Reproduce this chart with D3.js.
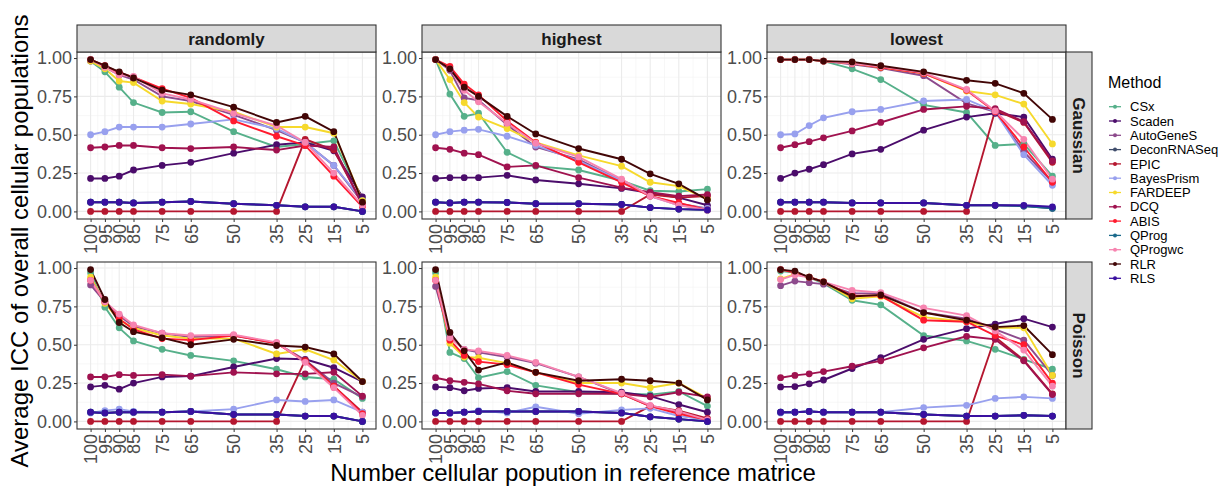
<!DOCTYPE html>
<html>
<head>
<meta charset="utf-8">
<script src="https://cdn.jsdelivr.net/npm/d3@7"></script>
<style>
  body { margin: 0; background: #fff; }
  svg { font-family: "Liberation Sans", Arial, sans-serif; }
</style>
</head>
<body>
<svg id="chart" width="1224" height="490"></svg>
<script>
// x categories (number of cell populations kept in the reference)
const xValues = [100, 95, 90, 85, 75, 65, 50, 35, 25, 15, 5];
const yTicks = [0, 0.25, 0.5, 0.75, 1];

const methods = ["CSx", "Scaden", "AutoGeneS", "DeconRNASeq", "EPIC", "BayesPrism",
  "FARDEEP", "DCQ", "ABIS", "QProg", "QProgwc", "RLR", "RLS"];
const methodColors = ["#56b08a", "#4b0c6b", "#8d4a8c", "#3f4c6b", "#b5172f", "#98a0ee",
  "#f6d92c", "#a0124f", "#ff1a2e", "#1b6a8b", "#f784b0", "#420606", "#3a10a0"];

const columns = ["randomly", "highest", "lowest"];
const rows = ["Gaussian", "Poisson"];

// one array per panel, rows in method order
const gaussianRandomly = [
  [0.98, 0.91, 0.81, 0.71, 0.645, 0.65, 0.52, 0.42, 0.44, 0.46, 0.08],
  [0.215, 0.215, 0.23, 0.27, 0.30, 0.32, 0.38, 0.435, 0.45, 0.395, 0.095],
  [0.98, 0.94, 0.89, 0.86, 0.75, 0.72, 0.63, 0.53, 0.45, 0.30, 0.06],
  [0.06, 0.06, 0.06, 0.055, 0.06, 0.065, 0.05, 0.04, 0.03, 0.03, 0.0],
  [0, 0, 0, 0, 0, 0, 0, 0, 0.47, 0.40, 0.05],
  [0.50, 0.52, 0.55, 0.55, 0.55, 0.57, 0.60, 0.54, 0.45, 0.30, 0.07],
  [0.98, 0.93, 0.85, 0.84, 0.72, 0.70, 0.65, 0.55, 0.55, 0.51, 0.07],
  [0.415, 0.42, 0.43, 0.43, 0.415, 0.41, 0.42, 0.40, 0.43, 0.42, 0.04],
  [0.99, 0.95, 0.905, 0.875, 0.80, 0.74, 0.59, 0.49, 0.43, 0.23, 0.03],
  [0.06, 0.06, 0.06, 0.055, 0.06, 0.065, 0.05, 0.04, 0.03, 0.03, 0.0],
  [0.99, 0.94, 0.89, 0.88, 0.77, 0.73, 0.64, 0.56, 0.45, 0.25, 0.04],
  [0.99, 0.95, 0.91, 0.87, 0.79, 0.76, 0.68, 0.58, 0.62, 0.52, 0.06],
  [0.06, 0.06, 0.06, 0.055, 0.06, 0.065, 0.05, 0.04, 0.03, 0.03, 0.0]
];
const gaussianHighest = [
  [0.99, 0.765, 0.62, 0.64, 0.385, 0.295, 0.27, 0.20, 0.135, 0.13, 0.145],
  [0.215, 0.22, 0.22, 0.22, 0.235, 0.205, 0.18, 0.15, 0.12, 0.09, 0.04],
  [0.99, 0.92, 0.74, 0.725, 0.565, 0.42, 0.34, 0.20, 0.10, 0.05, 0.02],
  [0.06, 0.055, 0.06, 0.06, 0.058, 0.05, 0.05, 0.045, 0.025, 0.015, 0.01],
  [0, 0, 0, 0, 0, 0, 0, 0, 0.11, 0.09, 0.10],
  [0.50, 0.52, 0.53, 0.535, 0.49, 0.43, 0.33, 0.20, 0.10, 0.04, 0.02],
  [0.99, 0.86, 0.71, 0.615, 0.54, 0.45, 0.365, 0.295, 0.19, 0.165, 0.08],
  [0.415, 0.405, 0.38, 0.37, 0.29, 0.30, 0.22, 0.155, 0.125, 0.10, 0.11],
  [0.99, 0.945, 0.83, 0.76, 0.59, 0.45, 0.32, 0.19, 0.10, 0.055, 0.01],
  [0.06, 0.055, 0.06, 0.06, 0.058, 0.05, 0.05, 0.045, 0.025, 0.015, 0.01],
  [0.99, 0.93, 0.79, 0.715, 0.575, 0.445, 0.355, 0.21, 0.10, 0.04, 0.01],
  [0.99, 0.93, 0.81, 0.75, 0.62, 0.505, 0.41, 0.34, 0.245, 0.18, 0.075],
  [0.06, 0.055, 0.06, 0.06, 0.058, 0.05, 0.05, 0.045, 0.025, 0.015, 0.01]
];
const gaussianLowest = [
  [0.99, 0.99, 0.99, 0.98, 0.93, 0.86, 0.695, 0.645, 0.43, 0.44, 0.23],
  [0.215, 0.25, 0.275, 0.305, 0.375, 0.405, 0.53, 0.615, 0.64, 0.615, 0.34],
  [0.99, 0.99, 0.99, 0.98, 0.96, 0.935, 0.885, 0.705, 0.65, 0.39, 0.19],
  [0.06, 0.06, 0.06, 0.06, 0.055, 0.055, 0.055, 0.04, 0.04, 0.035, 0.02],
  [0, 0, 0, 0, 0, 0, 0, 0, 0.66, 0.58, 0.32],
  [0.50, 0.505, 0.56, 0.61, 0.65, 0.665, 0.72, 0.73, 0.65, 0.37, 0.17],
  [0.99, 0.99, 0.99, 0.98, 0.965, 0.94, 0.90, 0.785, 0.76, 0.70, 0.44],
  [0.415, 0.435, 0.455, 0.48, 0.525, 0.58, 0.665, 0.685, 0.67, 0.585, 0.33],
  [0.99, 0.99, 0.99, 0.98, 0.965, 0.94, 0.90, 0.79, 0.65, 0.42, 0.19],
  [0.06, 0.06, 0.06, 0.06, 0.055, 0.055, 0.055, 0.04, 0.04, 0.035, 0.02],
  [0.99, 0.99, 0.99, 0.98, 0.965, 0.945, 0.905, 0.795, 0.655, 0.47, 0.21],
  [0.99, 0.99, 0.99, 0.98, 0.975, 0.95, 0.91, 0.855, 0.835, 0.77, 0.60],
  [0.06, 0.06, 0.06, 0.06, 0.055, 0.055, 0.055, 0.04, 0.04, 0.04, 0.03]
];
const poissonRandomly = [
  [0.97, 0.745, 0.61, 0.525, 0.47, 0.43, 0.395, 0.34, 0.29, 0.275, 0.15],
  [0.225, 0.235, 0.21, 0.25, 0.29, 0.295, 0.355, 0.41, 0.405, 0.35, 0.26],
  [0.89, 0.78, 0.69, 0.62, 0.575, 0.55, 0.56, 0.51, 0.40, 0.25, 0.16],
  [0.06, 0.055, 0.06, 0.06, 0.06, 0.065, 0.045, 0.045, 0.035, 0.035, 0.0],
  [0, 0, 0, 0, 0, 0, 0, 0, 0.40, 0.23, 0.06],
  [0.055, 0.07, 0.08, 0.065, 0.06, 0.065, 0.08, 0.14, 0.13, 0.14, 0.06],
  [0.94, 0.77, 0.66, 0.61, 0.56, 0.54, 0.54, 0.44, 0.47, 0.40, 0.26],
  [0.29, 0.29, 0.305, 0.30, 0.305, 0.295, 0.32, 0.31, 0.31, 0.32, 0.165],
  [0.92, 0.78, 0.67, 0.60, 0.54, 0.53, 0.56, 0.51, 0.39, 0.23, 0.05],
  [0.06, 0.055, 0.06, 0.06, 0.06, 0.065, 0.045, 0.045, 0.035, 0.035, 0.0],
  [0.92, 0.78, 0.70, 0.63, 0.575, 0.56, 0.565, 0.515, 0.385, 0.22, 0.04],
  [0.99, 0.795, 0.645, 0.585, 0.545, 0.50, 0.535, 0.495, 0.485, 0.44, 0.26],
  [0.06, 0.055, 0.06, 0.06, 0.06, 0.065, 0.045, 0.045, 0.035, 0.035, 0.0]
];
const poissonHighest = [
  [0.97, 0.45, 0.41, 0.285, 0.325, 0.235, 0.19, 0.18, 0.175, 0.195, 0.10],
  [0.225, 0.22, 0.20, 0.215, 0.22, 0.195, 0.195, 0.19, 0.165, 0.11, 0.06],
  [0.88, 0.55, 0.47, 0.45, 0.42, 0.38, 0.29, 0.18, 0.10, 0.06, 0.01],
  [0.055, 0.055, 0.06, 0.065, 0.065, 0.065, 0.065, 0.055, 0.03, 0.015, 0.0],
  [0, 0, 0, 0, 0, 0, 0, 0, 0.10, 0.07, 0.02],
  [0.055, 0.055, 0.06, 0.07, 0.055, 0.095, 0.05, 0.075, 0.085, 0.035, 0.01],
  [0.94, 0.51, 0.42, 0.415, 0.38, 0.32, 0.25, 0.25, 0.22, 0.25, 0.15],
  [0.285, 0.265, 0.255, 0.245, 0.20, 0.18, 0.18, 0.18, 0.16, 0.19, 0.16],
  [0.92, 0.53, 0.43, 0.39, 0.37, 0.32, 0.24, 0.18, 0.10, 0.05, 0.01],
  [0.055, 0.055, 0.06, 0.065, 0.065, 0.065, 0.065, 0.055, 0.03, 0.015, 0.0],
  [0.92, 0.545, 0.47, 0.46, 0.43, 0.385, 0.29, 0.185, 0.105, 0.065, 0.01],
  [0.99, 0.58, 0.46, 0.335, 0.385, 0.32, 0.265, 0.275, 0.265, 0.25, 0.14],
  [0.055, 0.055, 0.06, 0.065, 0.065, 0.065, 0.065, 0.055, 0.03, 0.015, 0.0]
];
const poissonLowest = [
  [0.98, 0.97, 0.94, 0.90, 0.79, 0.76, 0.56, 0.525, 0.47, 0.405, 0.34],
  [0.225, 0.227, 0.245, 0.27, 0.345, 0.415, 0.535, 0.605, 0.635, 0.67, 0.615],
  [0.885, 0.915, 0.905, 0.895, 0.835, 0.835, 0.71, 0.67, 0.60, 0.53, 0.30],
  [0.06, 0.06, 0.065, 0.06, 0.06, 0.06, 0.045, 0.035, 0.035, 0.04, 0.035],
  [0, 0, 0, 0, 0, 0, 0, 0, 0.55, 0.40, 0.18],
  [0.055, 0.06, 0.065, 0.06, 0.06, 0.06, 0.09, 0.105, 0.15, 0.16, 0.15],
  [0.93, 0.96, 0.94, 0.91, 0.80, 0.815, 0.68, 0.65, 0.61, 0.61, 0.30],
  [0.285, 0.30, 0.31, 0.325, 0.36, 0.395, 0.48, 0.555, 0.535, 0.395, 0.175],
  [0.99, 0.97, 0.94, 0.91, 0.82, 0.82, 0.66, 0.65, 0.56, 0.50, 0.25],
  [0.06, 0.06, 0.065, 0.06, 0.06, 0.06, 0.045, 0.035, 0.035, 0.04, 0.035],
  [0.925, 0.955, 0.94, 0.91, 0.855, 0.84, 0.74, 0.69, 0.59, 0.465, 0.23],
  [0.99, 0.98, 0.94, 0.91, 0.815, 0.825, 0.71, 0.66, 0.615, 0.625, 0.435],
  [0.06, 0.06, 0.065, 0.06, 0.06, 0.06, 0.045, 0.035, 0.035, 0.04, 0.035]
];

const panelData = [
  [gaussianRandomly, gaussianHighest, gaussianLowest],
  [poissonRandomly, poissonHighest, poissonLowest]
];

const svg = d3.select("#chart");

// panel layout
const panelLefts = [77, 422, 767];
const panelWidth = 299;
const panelTops = [52, 262];
const panelHeight = 167;
const stripTop = 25;
const stripSize = 27;

const x = d3.scaleLinear().domain([104.75, 0.25]);
const yDomain = [-0.0495, 1.0395];

// minor breaks halfway between the major ones
const xMinor = xValues.slice(0, -1).map((v, i) => (v + xValues[i + 1]) / 2);
const yMinor = [-0.125, 0.125, 0.375, 0.625, 0.875];

rows.forEach((rowName, r) => {
  columns.forEach((colName, c) => {
    const left = panelLefts[c];
    const top = panelTops[r];
    const xs = x.copy().range([left, left + panelWidth]);
    const ys = d3.scaleLinear().domain(yDomain).range([top + panelHeight, top]);
    const g = svg.append("g");

    // grid
    g.append("rect").attr("x", left).attr("y", top)
      .attr("width", panelWidth).attr("height", panelHeight).attr("fill", "#fff");
    g.selectAll(".xminor").data(xMinor).enter().append("line")
      .attr("x1", d => xs(d)).attr("x2", d => xs(d))
      .attr("y1", top).attr("y2", top + panelHeight)
      .attr("stroke", "#f2f2f2").attr("stroke-width", 0.6);
    g.selectAll(".yminor").data(yMinor.filter(d => d > yDomain[0])).enter().append("line")
      .attr("x1", left).attr("x2", left + panelWidth)
      .attr("y1", d => ys(d)).attr("y2", d => ys(d))
      .attr("stroke", "#f2f2f2").attr("stroke-width", 0.6);
    g.selectAll(".xmajor").data(xValues).enter().append("line")
      .attr("x1", d => xs(d)).attr("x2", d => xs(d))
      .attr("y1", top).attr("y2", top + panelHeight)
      .attr("stroke", "#ebebeb").attr("stroke-width", 1.1);
    g.selectAll(".ymajor").data(yTicks).enter().append("line")
      .attr("x1", left).attr("x2", left + panelWidth)
      .attr("y1", d => ys(d)).attr("y2", d => ys(d))
      .attr("stroke", "#ebebeb").attr("stroke-width", 1.1);

    // lines then points
    const data = panelData[r][c];
    const line = d3.line().x((d, i) => xs(xValues[i])).y(d => ys(d));
    g.selectAll(".series").data(data).enter().append("path")
      .attr("d", line).attr("fill", "none")
      .attr("stroke", (d, i) => methodColors[i]).attr("stroke-width", 1.9);
    data.forEach((vals, m) => {
      g.selectAll(null).data(vals).enter().append("circle")
        .attr("cx", (d, i) => xs(xValues[i])).attr("cy", d => ys(d))
        .attr("r", 3.4).attr("fill", methodColors[m]);
    });

    // border
    g.append("rect").attr("x", left).attr("y", top)
      .attr("width", panelWidth).attr("height", panelHeight)
      .attr("fill", "none").attr("stroke", "#333").attr("stroke-width", 1.1);

    // axes
    const yAxis = d3.axisLeft(ys).tickValues(yTicks).tickFormat(d3.format(".2f")).tickSize(3).tickPadding(2);
    g.append("g").attr("transform", `translate(${left},0)`).call(yAxis)
      .call(a => a.select(".domain").remove())
      .call(a => a.selectAll("line").attr("stroke", "#333"))
      .call(a => a.selectAll("text").attr("fill", "#4d4d4d")
        .style("font-size", "18px").style("font-family", "'Liberation Sans', Arial, sans-serif"));

    const xAxis = d3.axisBottom(xs).tickValues(xValues).tickFormat(d3.format("d")).tickSize(3).tickPadding(2);
    g.append("g").attr("transform", `translate(0,${top + panelHeight})`).call(xAxis)
      .call(a => a.select(".domain").remove())
      .call(a => a.selectAll("line").attr("stroke", "#333"))
      .call(a => a.selectAll("text").attr("fill", "#4d4d4d")
        .style("font-size", "18px").style("font-family", "'Liberation Sans', Arial, sans-serif")
        .attr("transform", "rotate(-90)")
        .attr("text-anchor", "end").attr("dy", "0.35em")
        .attr("x", -5).attr("y", 0));

    // top strip
    if (r === 0) {
      svg.append("rect").attr("x", left).attr("y", stripTop)
        .attr("width", panelWidth).attr("height", stripSize)
        .attr("fill", "#d9d9d9").attr("stroke", "#333").attr("stroke-width", 1.1);
      svg.append("text").attr("x", left + panelWidth / 2).attr("y", stripTop + stripSize / 2)
        .attr("dy", "0.36em").attr("text-anchor", "middle")
        .attr("font-size", 17).attr("font-weight", "bold").attr("fill", "#1a1a1a")
        .text(colName);
    }
    // right strip
    if (c === 2) {
      const sx = left + panelWidth;
      svg.append("rect").attr("x", sx).attr("y", top)
        .attr("width", stripSize - 1).attr("height", panelHeight)
        .attr("fill", "#d9d9d9").attr("stroke", "#333").attr("stroke-width", 1.1);
      svg.append("text")
        .attr("transform", `translate(${sx + (stripSize - 1) / 2},${top + panelHeight / 2}) rotate(90)`)
        .attr("dy", "0.36em").attr("text-anchor", "middle")
        .attr("font-size", 17).attr("font-weight", "bold").attr("fill", "#1a1a1a")
        .text(rowName);
    }
  });
});

// axis titles
svg.append("text").attr("x", 573).attr("y", 481).attr("text-anchor", "middle")
  .attr("font-size", 24).attr("fill", "#000")
  .text("Number cellular popution in reference matrice");
svg.append("text").attr("transform", "translate(28,241) rotate(-90)")
  .attr("text-anchor", "middle").attr("font-size", 24).attr("fill", "#000")
  .text("Average ICC of overall cellular populations");

// legend
const legend = svg.append("g").attr("transform", "translate(1108,0)");
legend.append("text").attr("x", 0).attr("y", 88).attr("font-size", 16).attr("fill", "#000").text("Method");
const items = legend.selectAll(".item").data(methods).enter().append("g")
  .attr("transform", (d, i) => `translate(0,${106.7 + i * 14.3})`);
items.append("line").attr("x1", 1).attr("x2", 13).attr("y1", 0).attr("y2", 0)
  .attr("stroke", (d, i) => methodColors[i]).attr("stroke-width", 1.3);
items.append("circle").attr("cx", 7).attr("cy", 0).attr("r", 2)
  .attr("fill", (d, i) => methodColors[i]);
items.append("text").attr("x", 22).attr("y", 0).attr("dy", "0.36em")
  .attr("font-size", 13).attr("fill", "#000").text(d => d);
</script>
</body>
</html>
